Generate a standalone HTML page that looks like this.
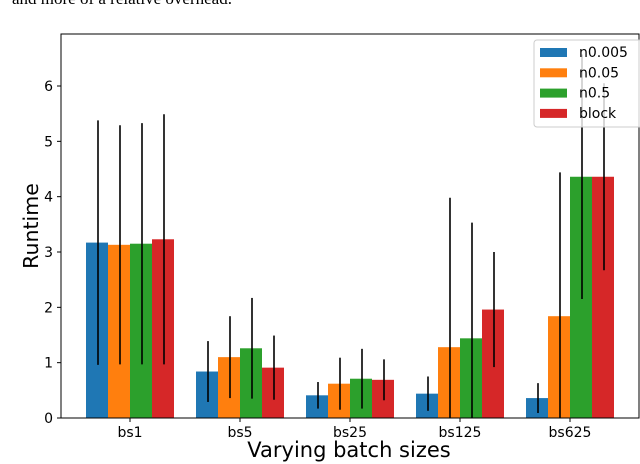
<!DOCTYPE html>
<html><head><meta charset="utf-8"><style>
html,body{margin:0;background:#fff;overflow:hidden;width:640px;height:464px;}
svg{display:block;font-family:"DejaVu Sans","Liberation Sans",sans-serif;}
</style></head><body>
<svg id="chart" width="640" height="464" viewBox="0 0 640 464" xmlns="http://www.w3.org/2000/svg">
<text x="12" y="4" font-family="Liberation Serif, serif" font-size="17" fill="#000">and more of a relative overhead.</text>
<g id="plot"></g>
</svg>
<script>
const categories = ["bs1","bs5","bs25","bs125","bs625"];
const seriesNames = ["n0.005","n0.05","n0.5","block"];
const colors = ["#1f77b4","#ff7f0e","#2ca02c","#d62728"];
const n0005 = [3.17,0.84,0.41,0.44,0.36];
const n005 = [3.13,1.10,0.62,1.28,1.84];
const n05 = [3.15,1.26,0.71,1.44,4.36];
const block = [3.23,0.91,0.69,1.96,4.36];
const err0005 = [2.21,0.55,0.24,0.31,0.27];
const err005 = [2.16,0.74,0.47,2.70,2.60];
const err05 = [2.18,0.91,0.54,2.09,2.21];
const errBlock = [2.26,0.58,0.37,1.04,1.69];
const yTicks = [0,1,2,3,4,5,6];

const series = [n0005,n005,n05,block];
const errs = [err0005,err005,err05,errBlock];
const NS="http://www.w3.org/2000/svg";
const g=document.getElementById('plot');
const L=61,R=639,T=34,B=418;
const yMax=6.94;
const y=v=>B-(v/yMax)*(B-T);
const x=i=>130+i*110;
const bw=22;
function mk(tag,attrs){const e=document.createElementNS(NS,tag);for(const k in attrs)e.setAttribute(k,attrs[k]);g.appendChild(e);return e;}
const clip=document.createElementNS(NS,'clipPath');clip.setAttribute('id','cp');
const cr=document.createElementNS(NS,'rect');cr.setAttribute('x',L);cr.setAttribute('y',T);cr.setAttribute('width',R-L);cr.setAttribute('height',B-T);clip.appendChild(cr);g.appendChild(clip);
const inner=document.createElementNS(NS,'g');inner.setAttribute('clip-path','url(#cp)');
series.forEach((s,si)=>{s.forEach((v,i)=>{
 const bx=x(i)-2*bw+si*bw;
 const r=document.createElementNS(NS,'rect');
 
 
 r.setAttribute('x',bx);r.setAttribute('y',y(v));r.setAttribute('width',bw);r.setAttribute('height',y(0)-y(v));r.setAttribute('fill',colors[si]);
 inner.appendChild(r);
});});
series.forEach((s,si)=>{s.forEach((v,i)=>{
 const cx=x(i)-2*bw+si*bw+bw/2+1;
 const e=errs[si][i];
 const l=document.createElementNS(NS,'line');
 
 
 l.setAttribute('x1',cx);l.setAttribute('x2',cx);l.setAttribute('y1',y(v-e));l.setAttribute('y2',y(v+e));l.setAttribute('stroke','#000');l.setAttribute('stroke-width','1.6');
 inner.appendChild(l);
});});
g.appendChild(inner);
const frame=mk('rect',{x:L,y:T,width:R-L,height:B-T,fill:'none',stroke:'#000','stroke-width':1});


yTicks.forEach(t=>{
 const tk=mk('line',{x1:L-4,x2:L,y1:y(t),y2:y(t),stroke:'#000'});
 
 
 const tx=mk('text',{x:L-8,y:y(t)+5,'text-anchor':'end','font-size':14});
 tx.textContent=t;
 
 
});
categories.forEach((c,i)=>{
 const tk=mk('line',{x1:x(i),x2:x(i),y1:B,y2:B+4,stroke:'#000'});
 
 
 const tx=mk('text',{x:x(i),y:B+19,'text-anchor':'middle','font-size':14});
 tx.textContent=c;
 
 
});
const xl=mk('text',{x:349,y:457,'text-anchor':'middle','font-size':21});
xl.textContent='Varying batch sizes';


const yl=mk('text',{x:0,y:0,'text-anchor':'middle','font-size':20.5,transform:'translate(38,226) rotate(-90)'});
yl.textContent='Runtime';


const lb=mk('rect',{x:534,y:40,width:112,height:87,rx:3,fill:'#fff','fill-opacity':0.8,stroke:'#ccc'});


seriesNames.forEach((n,si)=>{
 const yy=52+si*20.3;
 const p=mk('rect',{x:540,y:yy-4,width:27,height:9,fill:colors[si]});
 
 
 const t=mk('text',{x:579,y:yy+5,'font-size':14});
 t.textContent=n;
 
 
});
</script>
</body></html>
